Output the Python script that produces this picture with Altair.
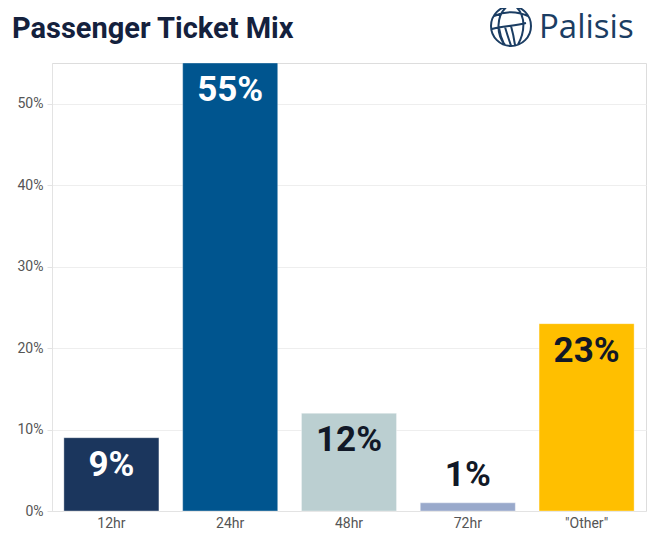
import altair as alt
import pandas as pd

categories = ["12hr", "24hr", "48hr", "72hr", '"Other"']
shares = [0.09, 0.55, 0.12, 0.01, 0.23]
bar_colors = ["#1b365d", "#00558f", "#bbcfd1", "#99a9cb", "#ffbf00"]
white_label_cats = ["12hr", "24hr"]
y_ticks = [0, 0.1, 0.2, 0.3, 0.4, 0.5]

df = pd.DataFrame({"cat": categories, "v": shares})

base = alt.Chart(df)

x_enc = alt.X(
    "cat:N",
    sort=categories,
    title=None,
    scale=alt.Scale(paddingInner=0.2, paddingOuter=0.1),
    axis=alt.Axis(
        labelAngle=0,
        labelColor="#555555",
        labelFont="Roboto",
        labelFontSize=14,
        labelPadding=5,
        ticks=False,
        domainColor="#e3e3e3",
        grid=False,
    ),
)
y_enc = alt.Y(
    "v:Q",
    title=None,
    scale=alt.Scale(domain=[0, 0.55], nice=False),
    axis=alt.Axis(
        values=y_ticks,
        format=".0%",
        labelColor="#555555",
        labelFont="Roboto",
        labelFontSize=14,
        labelPadding=4,
        tickColor="#e3e3e3",
        tickSize=5,
        domainColor="#e3e3e3",
        gridColor="#eeeeee",
    ),
)

bars = base.mark_bar(stroke="white", strokeOpacity=0.35, strokeWidth=1).encode(
    x=x_enc,
    y=y_enc,
    color=alt.Color(
        "cat:N",
        scale=alt.Scale(domain=categories, range=bar_colors),
        legend=None,
    ),
)

label_color = alt.condition(
    alt.FieldOneOfPredicate(field="cat", oneOf=white_label_cats),
    alt.value("white"),
    alt.value("#111827"),
)

inside = base.transform_filter("datum.v >= 0.05").mark_text(
    font="Roboto", fontSize=35, fontWeight="bold", baseline="middle", dy=27
).encode(
    x=alt.X("cat:N", sort=categories),
    y="v:Q",
    text=alt.Text("v:Q", format=".0%"),
    color=label_color,
)

outside = base.transform_filter("datum.v < 0.05").mark_text(
    font="Roboto", fontSize=35, fontWeight="bold", baseline="middle", dy=-28
).encode(
    x=alt.X("cat:N", sort=categories),
    y="v:Q",
    text=alt.Text("v:Q", format=".0%"),
    color=label_color,
)

title = alt.Chart(alt.Data(values=[{"t": "Passenger Ticket Mix"}])).mark_text(
    font="Roboto", fontSize=29, fontWeight="bold", color="#14213d",
    align="left", baseline="alphabetic"
).encode(x=alt.value(-40), y=alt.value(-25), text="t:N")

logo_text = alt.Chart(alt.Data(values=[{"t": "Palisis"}])).mark_text(
    font="Open Sans", fontSize=33, fontWeight=500, color="#1b3d63",
    align="left", baseline="alphabetic"
).encode(x=alt.value(487), y=alt.value(-25), text="t:N")

globe_path = (
    "M-1,0A1,1 0 1,1 1,0A1,1 0 1,1 -1,0Z"
    "M-0.2,-0.98C-0.75,-0.5 -0.75,0.4 -0.3,0.95"
    "M0.25,-0.97C0.75,-0.5 0.7,0.3 0.35,0.93"
    "M-0.85,-0.5C-0.3,-0.75 0.3,-0.75 0.85,-0.5"
    "M-0.95,0.15C-0.5,0.0 0.2,0.0 0.75,-0.15"
    "M-0.6,0.1C-0.55,0.45 -0.45,0.7 -0.35,0.9"
    "M-0.3,0.05C-0.2,0.4 -0.1,0.7 0.0,0.98"
    "M0.0,0.0C0.1,0.35 0.15,0.6 0.2,0.95"
)
logo_globe = alt.Chart(alt.Data(values=[{"t": 1}])).mark_point(
    shape=globe_path, size=1600, filled=False, stroke="#1b3d63", strokeWidth=2, opacity=1
).encode(x=alt.value(459), y=alt.value(-37))

chart = alt.layer(bars, inside, outside, title, logo_text, logo_globe).properties(
    width=594,
    height=448,
    autosize=alt.AutoSizeParams(type="none"),
    padding={"left": 44, "top": 55, "right": 6, "bottom": 22},
).configure_view(stroke=None).configure(background="white")

chart.save("out.html", embed_options={"renderer": "svg", "actions": False})
